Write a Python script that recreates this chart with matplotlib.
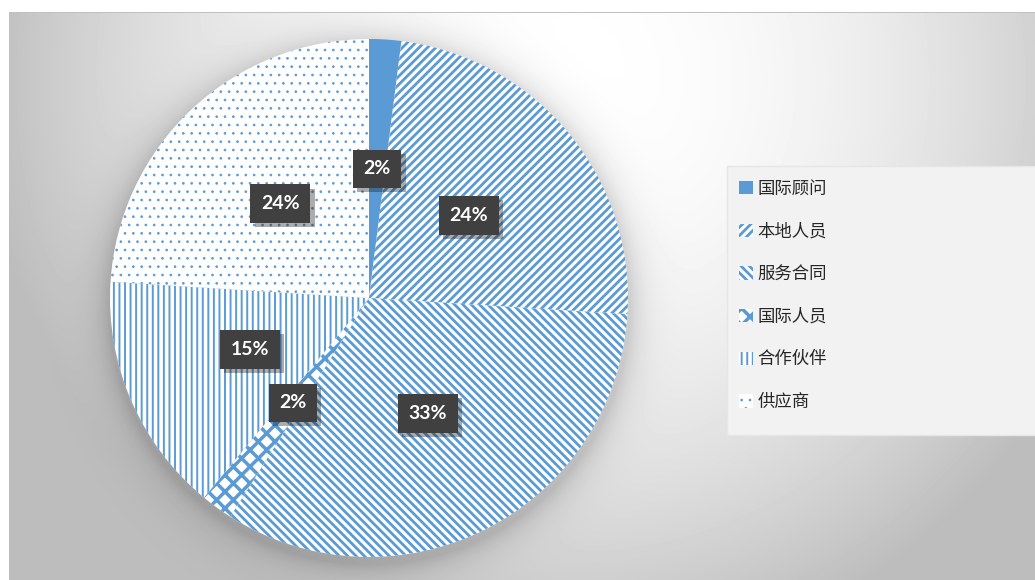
import numpy as np
import matplotlib
matplotlib.use("Agg")
import matplotlib.pyplot as plt
from matplotlib.patches import Rectangle
import matplotlib.patheffects as pe

plt.rcParams['font.family'] = ['Noto Sans CJK SC', 'DejaVu Sans']
plt.rcParams['hatch.color'] = '#5B9BD5'

# 数据
labels = ['国际顾问', '本地人员', '服务合同', '国际人员', '合作伙伴', '供应商']
values = [2, 24, 33, 2, 15, 24]
hatches = ['', '////', '\\\\\\\\', 'xx', '|||', '..']
hatch_lw = [1.0, 2.0, 2.0, 2.5, 1.4, 0.7]
blue = '#5B9BD5'

W, H = 1035, 580
fig = plt.figure(figsize=(W / 100, H / 100), dpi=100)
ax = fig.add_axes([0, 0, 1, 1])

# 背景渐变 + 饼图阴影
cx, cy, R = 369, 298, 259
yy, xx = np.mgrid[0:H, 0:W]
r2 = ((xx - 560) / 550.0) ** 2 + ((yy - 80) / 560.0) ** 2
bg = 255 - np.minimum(60 * r2, 66)
d = np.hypot(xx - cx, yy - (cy + 5)) - (R + 2)
shade = np.where(d > 0, 38 * np.exp(-d / 16.0), 38)
bg = bg - shade
img = np.clip(bg / 255.0, 0, 1)
img[:12, :] = 1.0
img[:, :9] = 1.0
img[12, 9:] = 0.75
ax.imshow(img, cmap='gray', vmin=0, vmax=1, extent=(0, W, 0, H),
          origin='upper', zorder=0, interpolation='bilinear')

wedges, texts, autotexts = ax.pie(
    values, colors=[blue] + ['white'] * 5, hatch=hatches,
    startangle=90, counterclock=False, center=(cx, H - cy), radius=R,
    autopct='%1.0f%%', pctdistance=0.5,
    wedgeprops=dict(edgecolor=blue, linewidth=0),
    textprops=dict(color='white', fontsize=14, fontweight='bold',
                   family=['Lato', 'DejaVu Sans']))

for w, lw in zip(wedges, hatch_lw):
    w.set_zorder(2)
    w.set_hatch_linewidth(lw)

for t in autotexts:
    t.set_zorder(5)
    t.set_bbox(dict(boxstyle='square,pad=0.55', fc='#404040', ec='none'))
    t.get_bbox_patch().set_path_effects(
        [pe.SimplePatchShadow(offset=(3, -3), alpha=0.35), pe.Normal()])

# 图例
ax.add_patch(Rectangle((727, H - 435), 320, 269, fc='#f2f2f2', ec='#e6e6e6',
                       lw=1, zorder=1))
leg = ax.legend(wedges, labels, loc='upper left',
                bbox_to_anchor=(730 / W, 1 - 171 / H),
                bbox_transform=fig.transFigure, frameon=False,
                fontsize=12.5, handlelength=0.8, handleheight=0.8,
                handletextpad=0.3, labelspacing=1.42, borderpad=0)
for t in leg.get_texts():
    t.set_color('#262626')
for h, lw in zip(leg.legend_handles, hatch_lw):
    h.set_hatch_linewidth(lw)

ax.set_xlim(0, W)
ax.set_ylim(0, H)
ax.set_aspect('auto')
ax.axis('off')

fig.savefig('out.png', dpi=100)
